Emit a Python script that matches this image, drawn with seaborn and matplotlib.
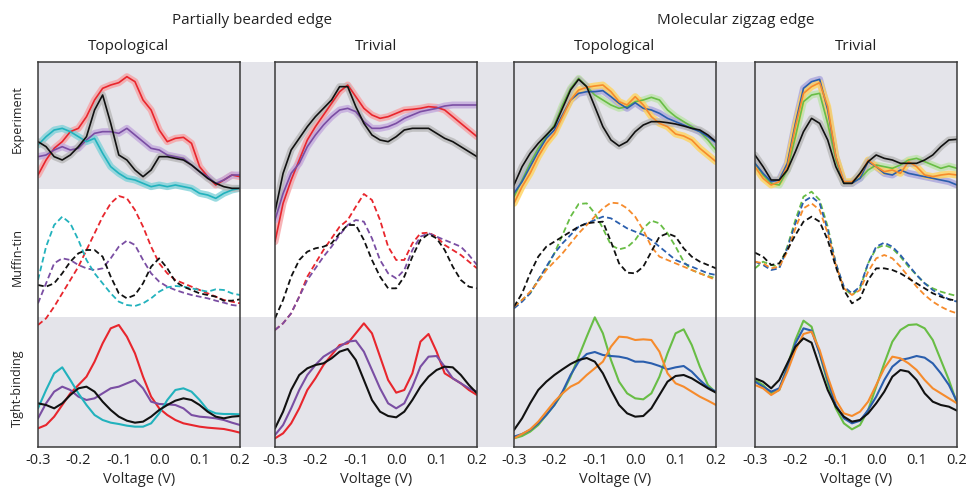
import numpy as np
import pandas as pd
import matplotlib
matplotlib.use("Agg")
import matplotlib.pyplot as plt
from matplotlib.patches import Rectangle
import seaborn as sns

# Bias voltage grid (V)
voltage = [-0.30, -0.28, -0.26, -0.24, -0.22, -0.20, -0.18, -0.16, -0.14, -0.12,
           -0.10, -0.08, -0.06, -0.04, -0.02, 0.00, 0.02, 0.04, 0.06, 0.08,
           0.10, 0.12, 0.14, 0.16, 0.18, 0.20]

# dI/dV spectra (arbitrary units) -- partially bearded edge, topological
pbt_exp_red = [42, 87, 122, 142, 172, 182, 217, 267, 302, 312, 319, 337, 322, 267, 237, 177, 142, 152, 155, 137, 67, 37, 12, 27, 42, 37]
pbt_exp_purple = [97, 102, 117, 127, 117, 122, 147, 167, 172, 172, 167, 182, 162, 142, 122, 117, 102, 97, 92, 72, 52, 37, 17, 27, 42, 42]
pbt_exp_cyan = [132, 157, 177, 182, 172, 157, 142, 152, 107, 67, 47, 32, 27, 17, 7, 12, 7, 12, 7, 2, -13, -18, -28, -13, -3, 2]
pbt_exp_black = [142, 127, 97, 87, 102, 127, 157, 237, 282, 197, 102, 87, 57, 37, 57, 97, 97, 92, 87, 72, 52, 32, 17, 7, 2, 2]
pbt_mt_red = [-24, -4, 31, 71, 111, 151, 201, 251, 301, 341, 363, 356, 321, 271, 211, 161, 131, 111, 101, 91, 81, 71, 61, 51, 46, 41]
pbt_mt_purple = [41, 101, 161, 176, 171, 156, 146, 141, 146, 176, 211, 229, 216, 171, 131, 106, 91, 81, 73, 66, 61, 56, 49, 43, 36, 33]
pbt_mt_cyan = [111, 211, 276, 301, 281, 231, 171, 131, 101, 71, 46, 36, 33, 41, 56, 76, 89, 93, 91, 86, 81, 76, 83, 81, 71, 66]
pbt_mt_black = [96, 91, 101, 131, 166, 191, 201, 201, 181, 121, 71, 56, 66, 101, 151, 176, 146, 106, 91, 81, 71, 66, 61, 49, 49, 53]
pbt_tb_red = [56, 66, 91, 126, 161, 186, 211, 256, 311, 356, 366, 331, 281, 211, 151, 116, 96, 81, 71, 66, 61, 58, 56, 54, 49, 43]
pbt_tb_purple = [86, 131, 166, 181, 171, 151, 141, 146, 161, 176, 181, 191, 201, 176, 136, 129, 128, 126, 116, 96, 91, 89, 86, 81, 73, 66]
pbt_tb_cyan = [116, 171, 221, 239, 201, 161, 126, 96, 81, 73, 69, 64, 61, 61, 71, 101, 141, 171, 176, 166, 141, 111, 101, 99, 99, 98]
pbt_tb_black = [131, 126, 116, 131, 156, 176, 181, 166, 136, 111, 91, 79, 73, 76, 91, 111, 126, 139, 146, 141, 126, 106, 91, 86, 91, 93]

# Partially bearded edge, trivial
pbv_exp_red = [-158, -43, 27, 87, 147, 187, 222, 257, 292, 312, 277, 242, 222, 212, 217, 227, 237, 239, 242, 247, 245, 237, 217, 197, 177, 157]
pbv_exp_purple = [-93, -13, 47, 77, 127, 162, 192, 217, 237, 242, 232, 202, 182, 182, 187, 197, 212, 222, 232, 237, 242, 249, 252, 252, 252, 252]
pbv_exp_black = [-68, 47, 117, 152, 187, 217, 242, 267, 307, 307, 247, 197, 162, 147, 142, 157, 177, 182, 182, 182, 167, 152, 142, 127, 112, 97]
pbv_mt_red = [-39, -19, 11, 61, 121, 161, 201, 236, 271, 291, 331, 369, 351, 291, 211, 171, 171, 221, 251, 253, 241, 216, 201, 186, 166, 146]
pbv_mt_purple = [-39, -19, 11, 61, 111, 146, 181, 211, 246, 276, 291, 286, 236, 171, 131, 116, 141, 201, 241, 251, 241, 231, 221, 211, 186, 156]
pbv_mt_black = [-4, 51, 121, 171, 196, 206, 211, 221, 251, 276, 276, 231, 171, 121, 86, 86, 121, 181, 231, 249, 236, 201, 151, 111, 91, 86]
pbv_tb_red = [26, 41, 71, 116, 171, 206, 246, 276, 306, 311, 341, 371, 341, 271, 201, 163, 171, 221, 316, 339, 286, 221, 206, 191, 171, 156]
pbv_tb_purple = [36, 66, 116, 171, 216, 246, 271, 286, 301, 316, 319, 286, 231, 176, 131, 116, 131, 181, 241, 271, 273, 241, 206, 191, 176, 166]
pbv_tb_black = [56, 106, 171, 216, 236, 246, 251, 266, 286, 294, 261, 201, 141, 106, 93, 89, 106, 141, 181, 211, 231, 241, 239, 216, 186, 161]

# Molecular zigzag edge, topological
mzt_exp_green = [-23, 27, 77, 122, 157, 192, 252, 302, 332, 307, 282, 267, 252, 242, 247, 262, 267, 275, 267, 237, 217, 202, 187, 172, 147, 117]
mzt_exp_blue = [-13, 22, 67, 112, 152, 177, 222, 267, 287, 292, 292, 295, 277, 257, 242, 259, 242, 237, 227, 212, 202, 192, 182, 172, 157, 139]
mzt_exp_orange = [-43, 7, 47, 97, 137, 167, 217, 267, 297, 305, 309, 312, 292, 262, 252, 277, 252, 217, 197, 187, 165, 159, 147, 122, 102, 82]
mzt_exp_black = [12, 67, 107, 137, 162, 187, 242, 297, 329, 307, 247, 187, 147, 129, 142, 172, 192, 202, 202, 199, 195, 189, 182, 177, 162, 142]
mzt_mt_green = [31, 51, 71, 111, 146, 191, 246, 301, 339, 341, 311, 266, 216, 203, 209, 231, 266, 289, 281, 251, 211, 166, 141, 131, 123, 116]
mzt_mt_blue = [26, 46, 71, 111, 151, 191, 221, 246, 271, 281, 291, 301, 296, 281, 266, 256, 246, 231, 211, 191, 171, 161, 151, 141, 131, 126]
mzt_mt_orange = [31, 51, 76, 106, 141, 166, 191, 221, 251, 276, 301, 326, 343, 341, 326, 301, 261, 211, 181, 171, 161, 151, 141, 131, 121, 111]
mzt_mt_black = [31, 71, 131, 181, 211, 226, 241, 256, 271, 281, 284, 286, 226, 161, 133, 131, 151, 196, 241, 251, 241, 206, 181, 166, 156, 146]
mzt_tb_green = [26, 33, 46, 66, 96, 126, 161, 211, 271, 331, 389, 341, 261, 196, 161, 146, 143, 161, 211, 281, 341, 353, 306, 241, 186, 163]
mzt_tb_blue = [31, 39, 51, 71, 96, 126, 166, 216, 256, 279, 285, 276, 273, 271, 266, 256, 256, 251, 243, 233, 239, 243, 226, 201, 179, 166]
mzt_tb_orange = [26, 39, 53, 76, 106, 136, 161, 181, 193, 216, 236, 256, 301, 331, 329, 321, 323, 321, 286, 221, 191, 181, 166, 151, 139, 126]
mzt_tb_black = [51, 86, 131, 171, 196, 216, 233, 249, 261, 267, 256, 221, 171, 126, 101, 91, 93, 116, 156, 196, 213, 216, 206, 191, 176, 163]

# Molecular zigzag edge, trivial
mzv_exp_green = [77, 42, 17, 12, 57, 157, 262, 282, 287, 197, 87, 17, 22, 32, 57, 72, 67, 62, 72, 87, 92, 82, 72, 62, 69, 62]
mzv_exp_blue = [77, 47, 22, 27, 77, 197, 302, 322, 329, 237, 97, 17, 17, 32, 82, 67, 47, 42, 57, 47, 42, 37, 32, 27, 22, 12]
mzv_exp_orange = [67, 32, 12, 22, 67, 187, 287, 307, 319, 247, 97, 22, 22, 42, 87, 67, 52, 57, 47, 82, 67, 42, 37, 42, 45, 42]
mzv_exp_black = [102, 67, 27, 27, 57, 112, 172, 212, 197, 147, 67, 17, 17, 47, 82, 102, 92, 87, 77, 77, 77, 87, 102, 127, 147, 149]
mzv_mt_green = [146, 166, 156, 151, 211, 291, 361, 376, 351, 271, 161, 86, 66, 86, 161, 206, 216, 206, 181, 151, 126, 101, 86, 76, 69, 63]
mzv_mt_blue = [166, 156, 141, 146, 206, 281, 346, 361, 341, 261, 161, 91, 71, 91, 161, 211, 223, 211, 186, 156, 126, 101, 81, 66, 53, 46]
mzv_mt_orange = [166, 161, 146, 151, 196, 266, 326, 341, 321, 251, 156, 86, 66, 81, 136, 176, 186, 176, 151, 121, 91, 66, 46, 31, 19, 11]
mzv_mt_black = [193, 181, 156, 161, 201, 246, 286, 301, 286, 231, 151, 81, 41, 56, 111, 146, 146, 141, 131, 116, 101, 86, 71, 61, 53, 49]
mzv_tb_green = [201, 186, 161, 171, 241, 321, 379, 361, 281, 191, 116, 71, 53, 66, 111, 181, 251, 316, 351, 366, 368, 356, 321, 261, 201, 131]
mzv_tb_blue = [196, 181, 166, 176, 236, 311, 356, 349, 281, 201, 126, 86, 71, 79, 111, 151, 201, 241, 261, 266, 273, 268, 251, 221, 186, 136]
mzv_tb_orange = [186, 176, 156, 171, 226, 291, 339, 346, 291, 211, 141, 101, 93, 106, 136, 186, 236, 271, 266, 251, 231, 201, 176, 161, 146, 131]
mzv_tb_black = [206, 196, 176, 201, 251, 301, 326, 313, 241, 171, 121, 91, 76, 81, 101, 131, 166, 211, 231, 226, 201, 161, 136, 126, 121, 109]

group_titles = ["Partially bearded edge", "Molecular zigzag edge"]
column_titles = ["Topological", "Trivial", "Topological", "Trivial"]
row_labels = ["Experiment", "Muffin-tin", "Tight-binding"]
tick_values = [-0.3, -0.2, -0.1, 0.0, 0.1, 0.2]
tick_labels = ["-0.3", "-0.2", "-0.1", "0.0", "0.1", "0.2"]

# line colours and the lighter tone used for the raw experimental points
COLORS = {"red": "#e8262d", "purple": "#7a4ea3", "cyan": "#22b2bd", "black": "#111111",
          "green": "#68bd45", "blue": "#2a5ead", "orange": "#f68b2c"}
RAW = {"red": "#f6a2a5", "purple": "#c3a9dd", "cyan": "#80d2d9", "black": "#b8b8b8",
       "green": "#bde3aa", "blue": "#aaa5dd", "orange": "#ffd45e"}

panels = [
    {"exp": [("red", pbt_exp_red), ("purple", pbt_exp_purple), ("cyan", pbt_exp_cyan), ("black", pbt_exp_black)],
     "mt": [("red", pbt_mt_red), ("purple", pbt_mt_purple), ("cyan", pbt_mt_cyan), ("black", pbt_mt_black)],
     "tb": [("red", pbt_tb_red), ("purple", pbt_tb_purple), ("cyan", pbt_tb_cyan), ("black", pbt_tb_black)]},
    {"exp": [("red", pbv_exp_red), ("purple", pbv_exp_purple), ("black", pbv_exp_black)],
     "mt": [("red", pbv_mt_red), ("purple", pbv_mt_purple), ("black", pbv_mt_black)],
     "tb": [("red", pbv_tb_red), ("purple", pbv_tb_purple), ("black", pbv_tb_black)]},
    {"exp": [("green", mzt_exp_green), ("blue", mzt_exp_blue), ("orange", mzt_exp_orange), ("black", mzt_exp_black)],
     "mt": [("green", mzt_mt_green), ("blue", mzt_mt_blue), ("orange", mzt_mt_orange), ("black", mzt_mt_black)],
     "tb": [("green", mzt_tb_green), ("blue", mzt_tb_blue), ("orange", mzt_tb_orange), ("black", mzt_tb_black)]},
    {"exp": [("green", mzv_exp_green), ("blue", mzv_exp_blue), ("orange", mzv_exp_orange), ("black", mzv_exp_black)],
     "mt": [("green", mzv_mt_green), ("blue", mzv_mt_blue), ("orange", mzv_mt_orange), ("black", mzv_mt_black)],
     "tb": [("green", mzv_tb_green), ("blue", mzv_tb_blue), ("orange", mzv_tb_orange), ("black", mzv_tb_black)]},
]

# vertical offset of each stacked row inside a panel
ROW_OFFSET = {"tb": 0, "mt": 390, "exp": 774}
Y_MAX = 1155

sns.set_theme(style="white")
plt.rcParams["font.family"] = ["Open Sans", "DejaVu Sans"]
plt.rcParams["text.color"] = "#222222"

W, H = 966, 487
fig = plt.figure(figsize=(W / 100, H / 100), dpi=100)


def fx(px):
    return px / W


def fy(py):
    return 1 - py / H


# shaded bands behind the experiment and tight-binding rows
band_color = "#e4e4ea"
for top, bottom in [(62, 189), (317, 447)]:
    fig.patches.append(Rectangle((fx(38), fy(bottom)), fx(957) - fx(38), fy(top) - fy(bottom),
                                 transform=fig.transFigure, facecolor=band_color,
                                 edgecolor="none", zorder=-5))

lefts = [38, 275, 514, 755]
pw = 202
for i, (left, panel) in enumerate(zip(lefts, panels)):
    ax = fig.add_axes([fx(left), fy(447), pw / W, fy(62) - fy(447)])
    ax.set_facecolor("none")
    for color, vals in panel["exp"]:
        y = np.asarray(vals) + ROW_OFFSET["exp"]
        sns.lineplot(x=voltage, y=y, ax=ax, color=RAW[color], linewidth=5.0, alpha=0.8,
                     estimator=None, sort=False, solid_capstyle="round",
                     solid_joinstyle="round")
    for color, vals in panel["exp"]:
        y = np.asarray(vals) + ROW_OFFSET["exp"]
        sns.lineplot(x=voltage, y=y, ax=ax, color=COLORS[color], linewidth=1.2,
                     estimator=None, sort=False, solid_joinstyle="round")
    for color, vals in panel["mt"]:
        y = np.asarray(vals) + ROW_OFFSET["mt"]
        sns.lineplot(x=voltage, y=y, ax=ax, color=COLORS[color], linewidth=1.3,
                     linestyle=(0, (3.2, 1.8)), estimator=None, sort=False,
                     dash_joinstyle="round")
    for color, vals in panel["tb"]:
        y = np.asarray(vals) + ROW_OFFSET["tb"]
        sns.lineplot(x=voltage, y=y, ax=ax, color=COLORS[color], linewidth=1.5,
                     estimator=None, sort=False, solid_joinstyle="round")

    ax.set_xlim(-0.3, 0.2)
    ax.set_ylim(0, Y_MAX)
    ax.set_yticks([])
    ax.set_xticks(tick_values)
    ax.set_xticklabels(tick_labels, fontsize=10.5)
    ax.tick_params(axis="x", direction="out", length=3, width=0.8, color="#444444",
                   pad=1.5, labelcolor="#222222")
    ax.set_xlabel("Voltage (V)", fontsize=10.5, labelpad=2.5)
    ax.set_ylabel("")
    for sp in ax.spines.values():
        sp.set_visible(True)
        sp.set_color("#3a3a3a")
        sp.set_linewidth(1.1)

# column and group headings
title_x = [128, 376, 615, 856]
for tx, t in zip(title_x, column_titles):
    fig.text(fx(tx), fy(47), t, ha="center", va="center", fontsize=11)
for tx, t in zip([252, 736], group_titles):
    fig.text(fx(tx), fy(21), t, ha="center", va="center", fontsize=11)

# row labels
for ty, t in zip([119, 257, 388], row_labels):
    fig.text(fx(17), fy(ty), t, ha="center", va="center", rotation=90, fontsize=9)

fig.savefig("out.png", dpi=100)
